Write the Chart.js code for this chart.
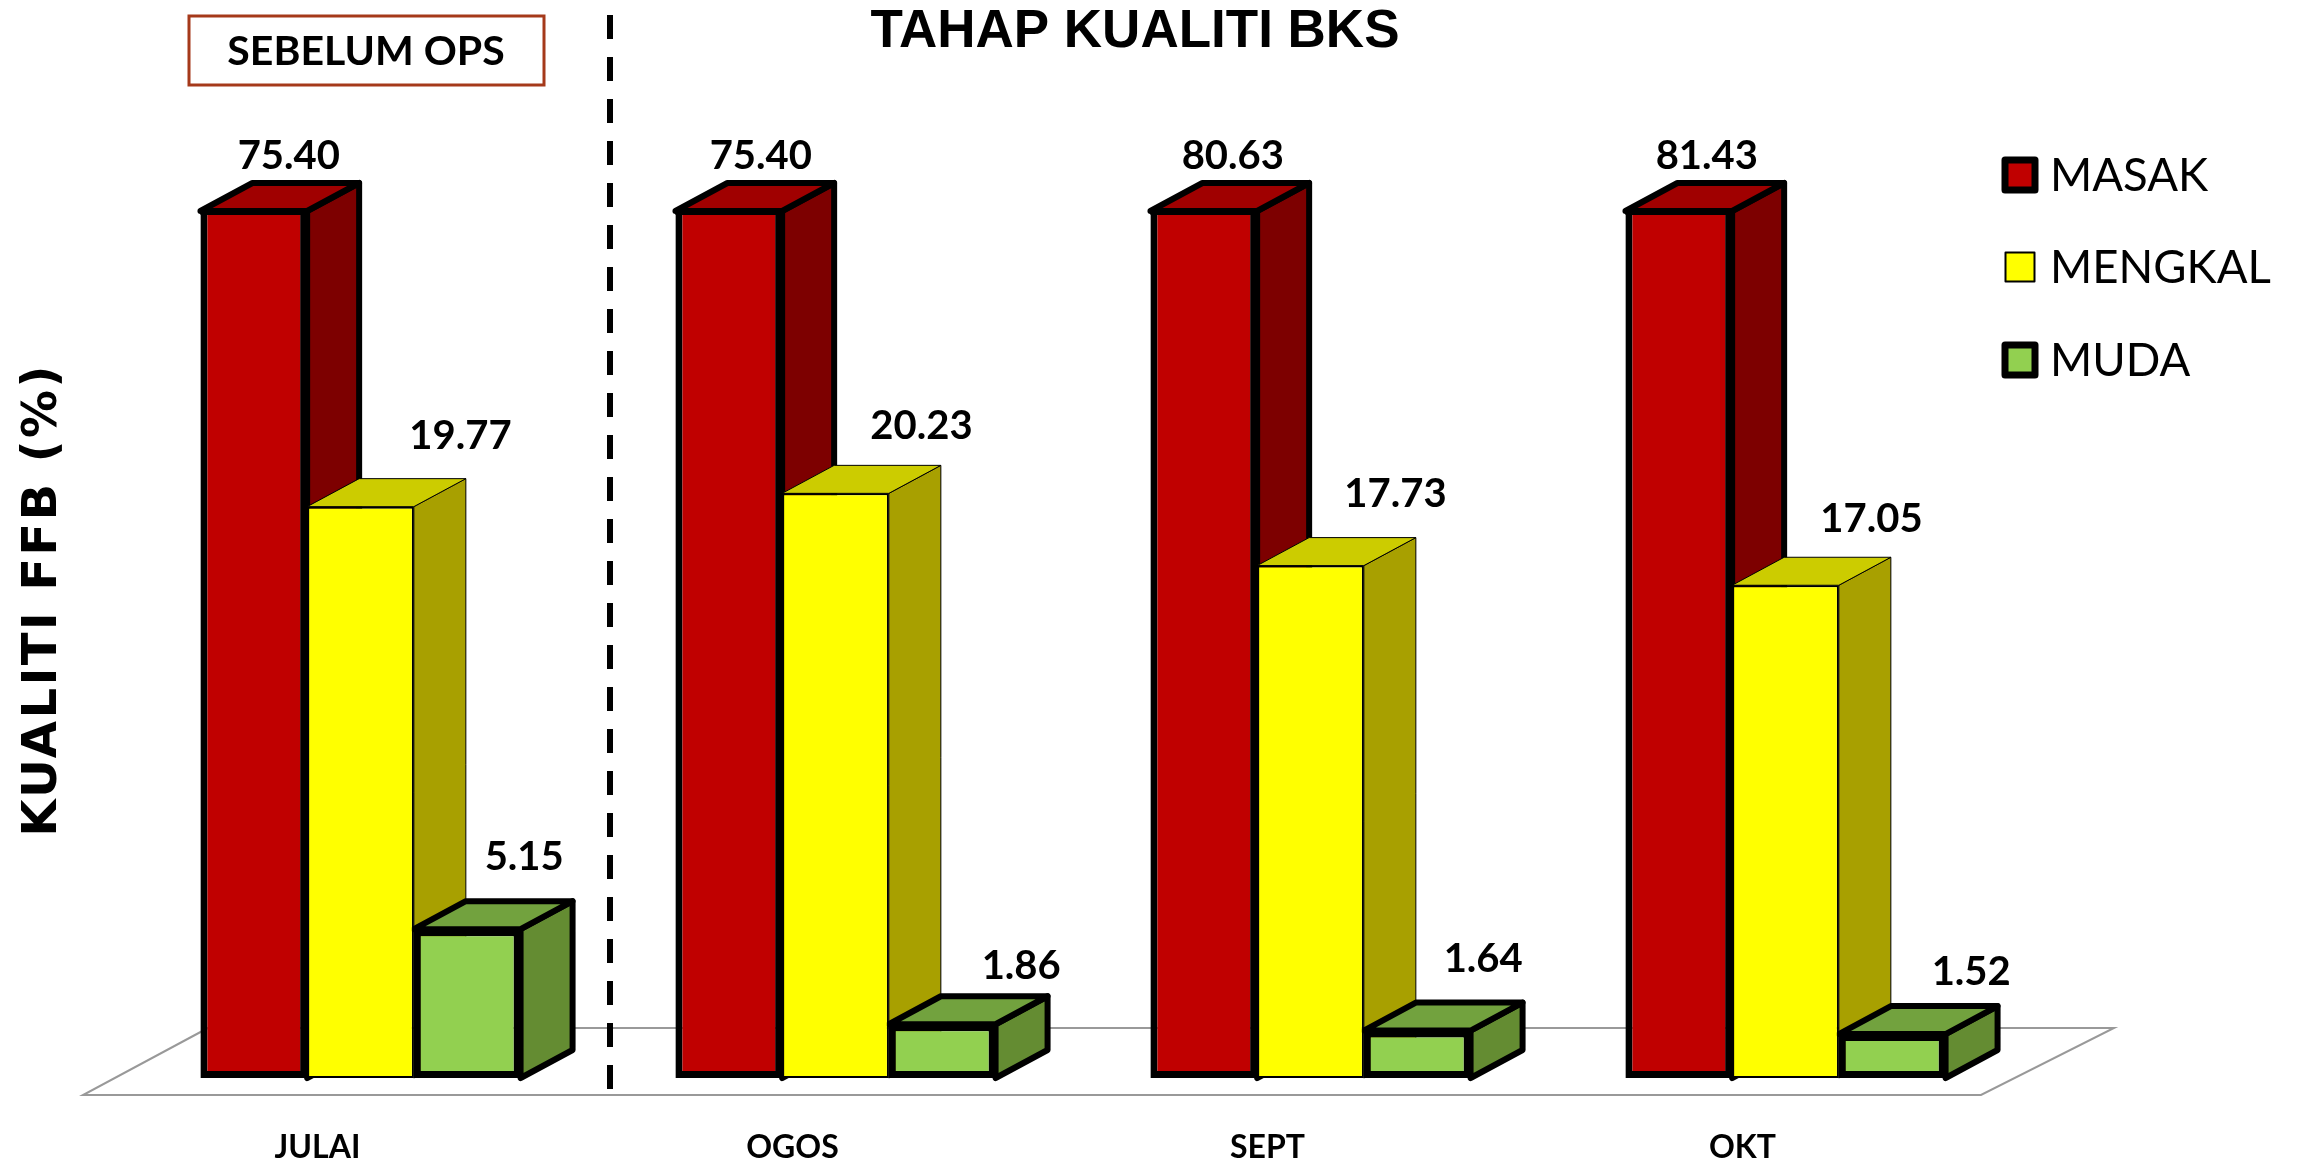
<!DOCTYPE html>
<html>
<head>
<meta charset="utf-8">
<title>Tahap Kualiti BKS</title>
<script src="https://cdn.jsdelivr.net/npm/chart.js@4/dist/chart.umd.min.js"></script>
<style>
  html, body { margin: 0; padding: 0; background: #fff; overflow: hidden; }
  canvas { display: block; }
</style>
</head>
<body>
<canvas id="chart" width="2297" height="1164"></canvas>
<script>
const months = ['JULAI', 'OGOS', 'SEPT', 'OKT'];
const masak = [75.40, 75.40, 80.63, 81.43];
const mengkal = [19.77, 20.23, 17.73, 17.05];
const muda = [5.15, 1.86, 1.64, 1.52];

// warna muka depan / sisi / atas
const faces = [
  { front: '#c00000', side: '#7d0000', top: '#a00000', line: 7 },
  { front: '#ffff00', side: '#a8a000', top: '#cccc00', line: 2 },
  { front: '#92d050', side: '#648c32', top: '#72a23e', line: 7 },
];
const depthX = 52;
const depthY = 28;

// kedudukan label tidak sekata dalam gambar asal, jadi dilaras satu-satu (px dari tengah bar / atas bar)
const labelNudgeX = [[35, 32, 29, 28], [100, 86, 85, 86], [57, 79, 66, 79]];
const labelNudgeY = [[55, 55, 55, 55], [71, 67, 72, 66], [72, 58, 72, 62]];

function polygon(ctx, pts, fill, lineWidth) {
  ctx.beginPath();
  pts.forEach((p, i) => (i ? ctx.lineTo(p[0], p[1]) : ctx.moveTo(p[0], p[1])));
  ctx.closePath();
  ctx.fillStyle = fill;
  ctx.fill();
  ctx.lineWidth = lineWidth;
  ctx.lineJoin = 'round';
  ctx.strokeStyle = '#000';
  ctx.stroke();
}

const bar3d = {
  id: 'bar3d',
  beforeDatasetsDraw(chart) {
    const { ctx, chartArea: ca } = chart;

    // lantai
    ctx.save();
    ctx.beginPath();
    ctx.moveTo(ca.left + 85, ca.bottom - 50);
    ctx.lineTo(ca.left - 40, ca.bottom + 17);
    ctx.lineTo(ca.right - 42, ca.bottom + 17);
    ctx.lineTo(ca.right + 91, ca.bottom - 50);
    ctx.closePath();
    ctx.strokeStyle = '#999';
    ctx.lineWidth = 2;
    ctx.stroke();

    // sisi dan atas bar, muka depan dilukis oleh Chart.js
    chart.data.datasets.forEach((ds, i) => {
      const f = faces[i];
      chart.getDatasetMeta(i).data.forEach((bar) => {
        const l = bar.x - bar.width / 2;
        const r = bar.x + bar.width / 2;
        const top = Math.max(bar.y, ca.top);
        const base = bar.base;
        polygon(ctx, [[r, top], [r + depthX, top - depthY], [r + depthX, base - depthY], [r, base]], f.side, f.line - 1);
        polygon(ctx, [[l, top], [l + depthX, top - depthY], [r + depthX, top - depthY], [r, top]], f.top, f.line - 1);
      });
    });
    ctx.restore();
  },
  afterDatasetsDraw(chart) {
    const { ctx, chartArea: ca } = chart;
    ctx.save();
    chart.data.datasets.forEach((ds, i) => {
      chart.getDatasetMeta(i).data.forEach((bar, j) => {
        const top = Math.max(bar.y, ca.top);

        // bar merah terpotong di atas, garis atas dilukis semula
        if (bar.y < ca.top) {
          ctx.fillStyle = '#000';
          ctx.fillRect(bar.x - bar.width / 2, top - 3, bar.width, 7);
        }

        ctx.font = 'bold 40px Lato';
        ctx.fillStyle = '#000';
        ctx.textAlign = 'center';
        ctx.textBaseline = 'middle';
        ctx.fillText(ds.data[j].toFixed(2), bar.x + labelNudgeX[i][j], top - labelNudgeY[i][j]);
      });
    });
    ctx.restore();
  },
  afterDraw(chart) {
    const { ctx, chartArea: ca, scales } = chart;
    ctx.save();

    // garis putus antara JULAI dan OGOS
    const divider = (scales.x.getPixelForValue(0) + scales.x.getPixelForValue(1)) / 2 + 12;
    ctx.beginPath();
    ctx.setLineDash([24, 18]);
    ctx.moveTo(divider, 15);
    ctx.lineTo(divider, ca.bottom + 13);
    ctx.strokeStyle = '#000';
    ctx.lineWidth = 6;
    ctx.stroke();
    ctx.setLineDash([]);

    // tajuk
    ctx.fillStyle = '#000';
    ctx.textAlign = 'center';
    ctx.textBaseline = 'middle';
    ctx.font = 'bold 53px "Liberation Sans"';
    ctx.fillText('TAHAP KUALITI BKS', 1135, 32);

    // kotak sebelum ops
    ctx.strokeStyle = '#a5391a';
    ctx.lineWidth = 3;
    ctx.strokeRect(189, 16, 355, 69);
    ctx.font = 'bold 41px Lato';
    ctx.fillText('SEBELUM OPS', 366, 52);

    // label paksi y
    ctx.save();
    ctx.translate(44, 600);
    ctx.rotate(-Math.PI / 2);
    ctx.font = 'bold 48px "DejaVu Sans"';
    ctx.letterSpacing = '2.4px';
    ctx.fillText('KUALITI FFB (%)', 0, 0);
    ctx.restore();

    // petunjuk
    const rows = [175, 267, 360];
    chart.data.datasets.forEach((ds, i) => {
      const f = faces[i];
      const size = i === 1 ? 29 : 30;
      ctx.fillStyle = f.front;
      ctx.fillRect(2020 - size / 2, rows[i] - size / 2, size, size);
      ctx.strokeStyle = '#000';
      ctx.lineWidth = f.line;
      ctx.lineJoin = 'round';
      ctx.strokeRect(2020 - size / 2, rows[i] - size / 2, size, size);
      ctx.fillStyle = '#000';
      ctx.textAlign = 'left';
      ctx.font = '45.5px Lato';
      ctx.fillText(ds.label, 2050, rows[i] + 1);
    });
    ctx.restore();
  },
};

new Chart(document.getElementById('chart').getContext('2d'), {
  type: 'bar',
  data: {
    labels: months,
    datasets: [
      { label: 'MASAK', data: masak, backgroundColor: faces[0].front, borderColor: '#000', borderWidth: 7, borderSkipped: false },
      { label: 'MENGKAL', data: mengkal, backgroundColor: faces[1].front, borderColor: '#000', borderWidth: 2, borderSkipped: false },
      { label: 'MUDA', data: muda, backgroundColor: faces[2].front, borderColor: '#000', borderWidth: 7, borderSkipped: false },
    ],
  },
  options: {
    responsive: false,
    animation: false,
    layout: { padding: { left: 123, right: 274, top: 211, bottom: 0 } },
    datasets: { bar: { categoryPercentage: 0.674, barPercentage: 1 } },
    plugins: { legend: { display: false }, title: { display: false } },
    scales: {
      x: {
        grid: { display: false },
        border: { display: false },
        afterFit(axis) { axis.height = 86; },
        ticks: {
          color: '#000',
          padding: 42,
          labelOffset: -43,
          maxRotation: 0,
          font: { family: 'Lato', weight: 'bold', size: 32 },
        },
      },
      y: { display: false, min: 0, max: 30 },
    },
  },
  plugins: [bar3d],
});
</script>
</body>
</html>
